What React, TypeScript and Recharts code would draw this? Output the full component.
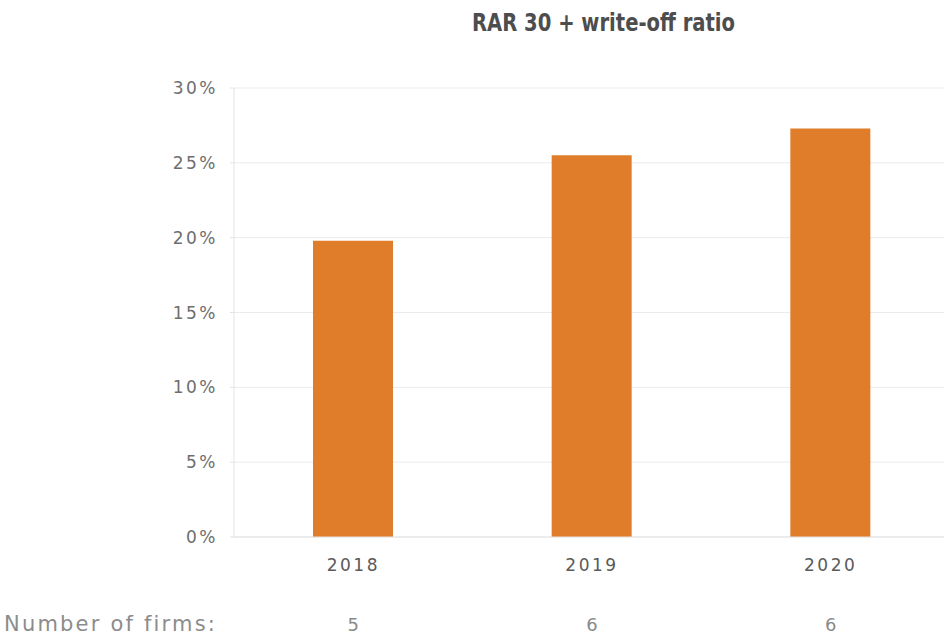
import React from 'react';
import { BarChart, Bar, XAxis, YAxis, CartesianGrid } from 'recharts';

const years = ['2018', '2019', '2020'];
const ratio = [19.8, 25.5, 27.3];
const firms = [5, 6, 6];
const yTicks = [0, 5, 10, 15, 20, 25, 30];

const data = years.map((year, i) => ({ year, ratio: ratio[i], firms: firms[i] }));

const textFont = '"DejaVu Sans", "Open Sans", sans-serif';

export default function App() {
  return (
    <div style={{ position: 'fixed', left: 0, top: 0, width: 944, height: 637, overflow: 'hidden', background: '#fff' }}>
      <svg width={944} height={50} style={{ position: 'absolute', left: 0, top: 0 }}>
        <text
          x={472}
          y={31}
          textLength={263}
          lengthAdjust="spacingAndGlyphs"
          fontFamily='"DejaVu Sans", sans-serif'
          fontWeight="bold"
          fontSize={24}
          fill="#4d4d4d"
        >
          RAR 30 + write-off ratio
        </text>
      </svg>
      <BarChart width={960} height={637} data={data} margin={{ top: 88, right: 10, bottom: 0, left: 0 }}>
        <CartesianGrid vertical={false} stroke="#ebebeb" />
        <YAxis
          domain={[0, 30]}
          ticks={yTicks}
          tickFormatter={(v: number) => `${v}%`}
          width={234}
          axisLine={{ stroke: '#e3e3e3' }}
          tickLine={{ stroke: '#e3e3e3' }}
          tickSize={4}
          tickMargin={12}
          tick={{ fill: '#6e6e6e', fontSize: 17, fontFamily: textFont, letterSpacing: 2.5 }}
        />
        <XAxis
          dataKey="year"
          height={45}
          axisLine={{ stroke: '#e3e3e3' }}
          tickLine={false}
          tickSize={0}
          tickMargin={22}
          tick={{ fill: '#5a5a5a', fontSize: 17, fontFamily: textFont, letterSpacing: 2.5 }}
        />
        <XAxis
          xAxisId="firms"
          dataKey="firms"
          height={55}
          axisLine={false}
          tickLine={false}
          tickSize={0}
          tickMargin={36}
          tick={{ fill: '#8a8a8a', fontSize: 18, fontFamily: textFont }}
        />
        <Bar dataKey="ratio" fill="#e07d2b" barSize={80} isAnimationActive={false} />
      </BarChart>
      <div
        style={{
          position: 'absolute',
          left: 4,
          top: 611,
          fontFamily: textFont,
          fontSize: 21,
          lineHeight: '26px',
          color: '#8c8c8c',
          letterSpacing: 2.2,
        }}
      >
        Number of firms:
      </div>
    </div>
  );
}
